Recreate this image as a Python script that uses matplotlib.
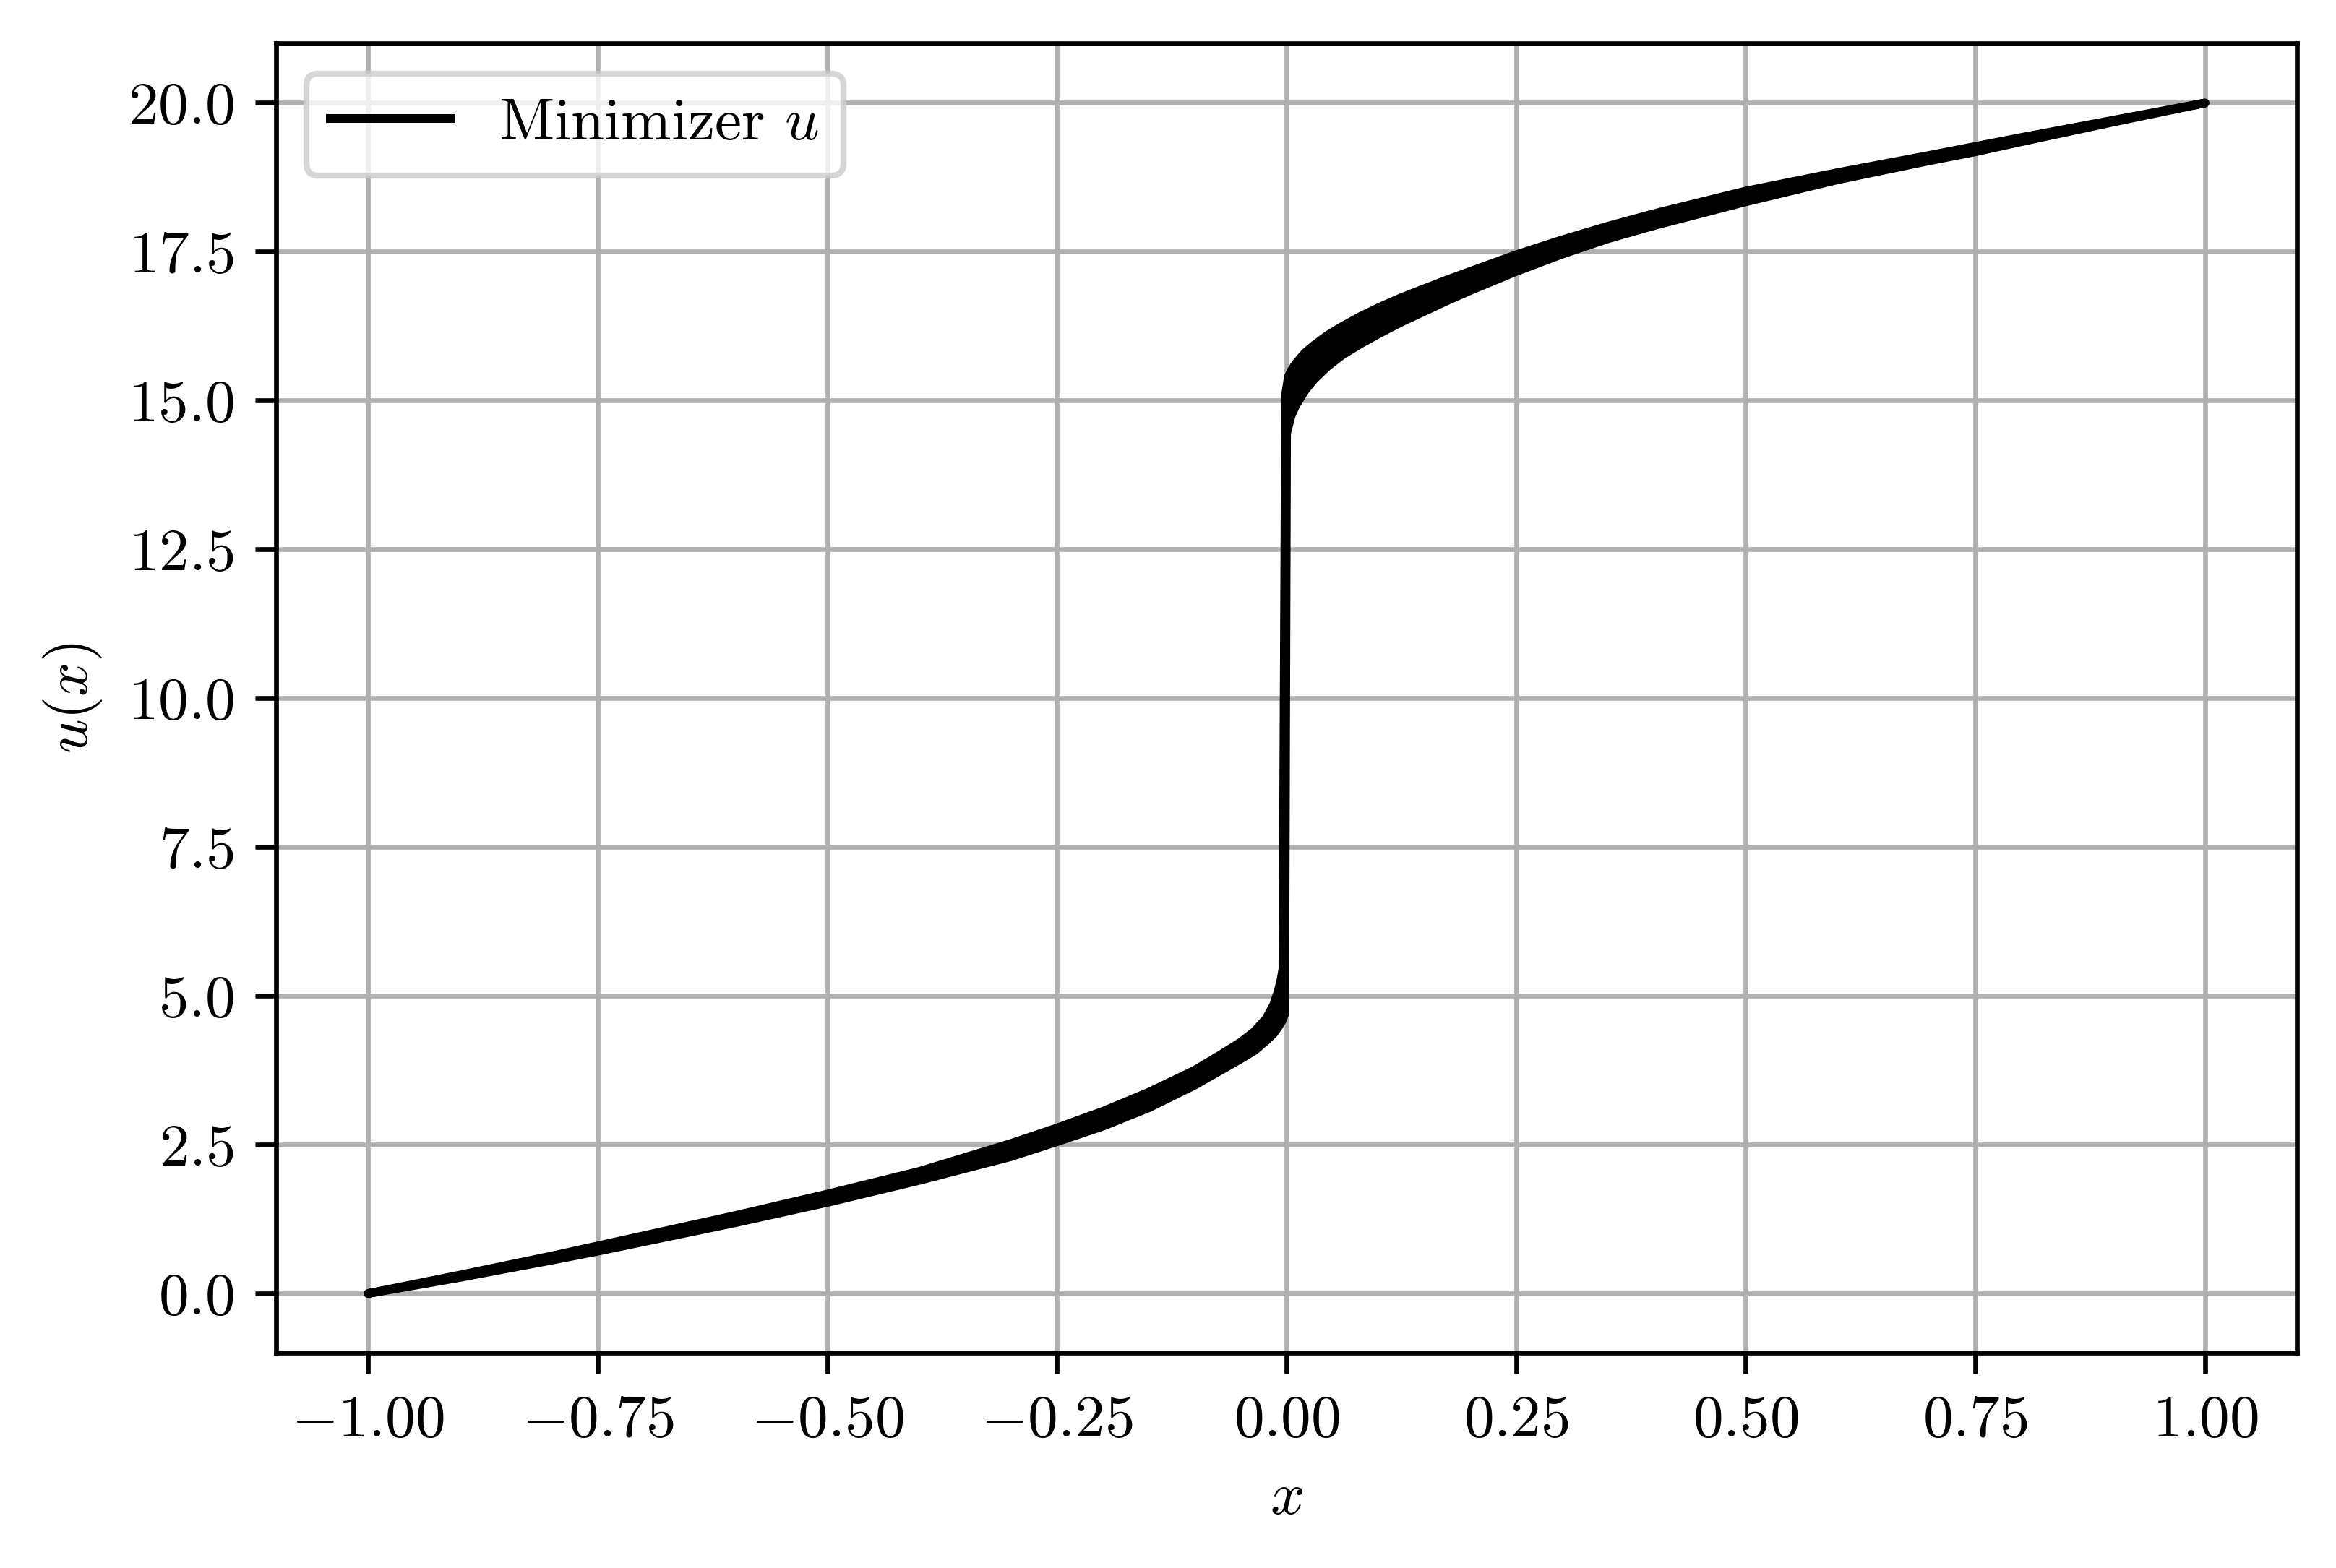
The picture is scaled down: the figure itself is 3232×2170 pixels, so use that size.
import matplotlib
matplotlib.use("Agg")
import matplotlib.pyplot as plt
import matplotlib.ticker as mticker

plt.rcParams['font.family'] = 'serif'
plt.rcParams['font.serif'] = ['cmr10']
plt.rcParams['mathtext.fontset'] = 'cm'
plt.rcParams['axes.formatter.use_mathtext'] = True
plt.rcParams['axes.unicode_minus'] = True

# Upper / lower envelopes of the (highly oscillating) minimizer u
x_left_upper = [-1.0, -0.9, -0.8, -0.75, -0.7, -0.6, -0.5, -0.4, -0.3, -0.25, -0.2,
                -0.15, -0.1, -0.075, -0.05, -0.035, -0.022, -0.014, -0.009, -0.006, -0.004]
u_left_upper = [0.0, 0.31, 0.63, 0.80, 0.97, 1.31, 1.67, 2.05, 2.52, 2.78, 3.06,
                3.38, 3.75, 3.98, 4.22, 4.40, 4.62, 4.85, 5.08, 5.27, 5.45]
x_left_lower = [-1.0, -0.9, -0.8, -0.75, -0.7, -0.6, -0.5, -0.4, -0.3, -0.25, -0.2,
                -0.15, -0.1, -0.075, -0.05, -0.035, -0.022, -0.014, -0.009, -0.005, -0.002]
u_left_lower = [0.0, 0.27, 0.56, 0.71, 0.87, 1.19, 1.53, 1.90, 2.30, 2.55, 2.81,
                3.12, 3.50, 3.72, 3.94, 4.08, 4.25, 4.37, 4.48, 4.58, 4.70]

x_right_upper = [-0.001, 0.002, 0.005, 0.01, 0.02, 0.03, 0.045, 0.06, 0.08, 0.1, 0.125,
                 0.15, 0.175, 0.2, 0.25, 0.3, 0.35, 0.4, 0.5, 0.6, 0.7, 0.75, 0.8, 0.9, 1.0]
u_right_upper = [15.10, 15.40, 15.50, 15.62, 15.80, 15.93, 16.10, 16.24, 16.41, 16.56, 16.73,
                 16.88, 17.03, 17.17, 17.45, 17.70, 17.93, 18.14, 18.52, 18.83, 19.12, 19.27,
                 19.42, 19.71, 20.0]
x_right_lower = [0.0, 0.005, 0.01, 0.02, 0.03, 0.045, 0.06, 0.08, 0.1, 0.125, 0.15,
                 0.175, 0.2, 0.25, 0.3, 0.35, 0.4, 0.5, 0.6, 0.7, 0.75, 0.8, 0.9, 1.0]
u_right_lower = [14.45, 14.75, 14.92, 15.17, 15.36, 15.58, 15.76, 15.95, 16.12, 16.32, 16.50,
                 16.68, 16.85, 17.17, 17.46, 17.72, 17.94, 18.34, 18.71, 19.03, 19.18, 19.35,
                 19.68, 20.0]

x_ticks = [-1.0, -0.75, -0.5, -0.25, 0.0, 0.25, 0.5, 0.75, 1.0]
y_ticks = [0.0, 2.5, 5.0, 7.5, 10.0, 12.5, 15.0, 17.5, 20.0]

fig = plt.figure(figsize=(3232 / 600, 2170 / 600), dpi=600)
ax = fig.add_axes([0.1182, 0.1371, 0.8651, 0.8352])

poly_x = (x_left_upper + x_right_upper
          + x_right_lower[::-1] + x_left_lower[::-1])
poly_y = (u_left_upper + u_right_upper
          + u_right_lower[::-1] + u_left_lower[::-1])
ax.fill(poly_x, poly_y, facecolor='black', edgecolor='black', linewidth=1.45,
        joinstyle='round', zorder=2)
ax.plot([], [], color='black', linewidth=1.45, label='Minimizer $u$')

ax.set_xlim(-1.1, 1.1)
ax.set_ylim(-1.0, 21.0)
ax.set_xticks(x_ticks)
ax.set_yticks(y_ticks)
ax.xaxis.set_major_formatter(mticker.FormatStrFormatter('$%.2f$'))
ax.yaxis.set_major_formatter(mticker.FormatStrFormatter('$%.1f$'))
ax.grid(True)
ax.set_axisbelow(True)
ax.set_xlabel('$x$')
ax.set_ylabel('$u(x)$')
ax.legend(loc='upper left')

fig.savefig('out.png', dpi=600)
